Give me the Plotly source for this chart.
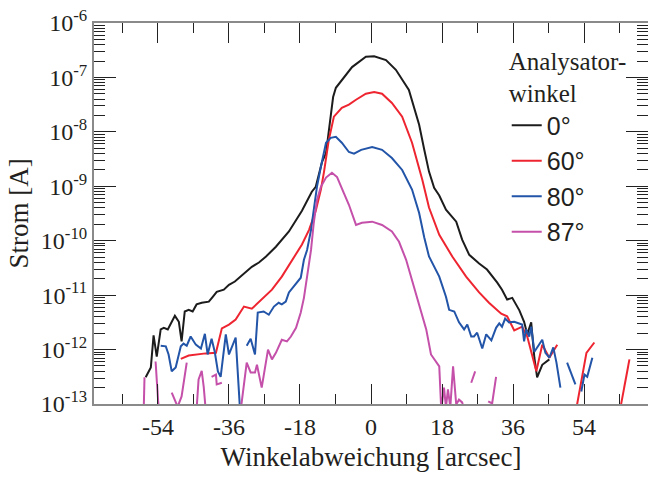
import numpy as np
import plotly.graph_objects as go

# ---- data (x in arcsec, values as log10 of current in A) ----
x_0 = [-57.1,-55.8,-55.1,-54.3,-53.3,-52.5,-51.5,-49.7,-48.7,-48.0,-47.2,-46.2,-45.2,-44.2,-42.9,-41.1,-40.1,-39.1,
       -37.3,-36.0,-34.5,-33.0,-31.5,-30.2,-28.4,-26.6,-24.1,-22.6,-20.8,-17.5,-15.0,-14.0,-13.2,-12.4,-11.4,-10.7,
       -10.2,-9.6,-8.9,-7.4,-4.8,-1.3,0.8,3.8,6.3,9.6,12.2,13.5,14.7,16.0,17.3,19.0,21.6,23.1,24.9,27.4,29.4,32.0,
       33.2,34.5,35.8,37.6,38.8,39.6,40.6,41.4,42.1,43.4,45.2]
log_0 = [-12.51,-12.33,-11.74,-12.13,-11.63,-11.60,-11.63,-11.38,-11.49,-11.85,-11.30,-11.27,-11.30,-11.17,-11.14,-11.12,-11.03,-10.94,
         -10.90,-10.81,-10.75,-10.66,-10.57,-10.48,-10.40,-10.29,-10.11,-9.98,-9.83,-9.45,-9.10,-9.01,-8.75,-8.55,-8.39,-8.02,
         -7.72,-7.36,-7.19,-7.05,-6.81,-6.62,-6.61,-6.68,-6.86,-7.23,-7.87,-8.33,-8.73,-9.03,-9.17,-9.43,-9.65,-9.98,-10.26,-10.42,-10.53,-10.77,
         -10.90,-11.08,-11.05,-11.28,-11.49,-11.72,-11.50,-12.15,-12.51,-12.28,-12.18]

x_60 = [-48.2,-46.2,-41.9,-39.3,-37.8,-36.0,-34.3,-32.2,-30.2,-27.2,-25.1,-22.6,-20.1,-17.5,-15.7,-14.0,-12.7,-11.9,-10.7,
        -9.4,-7.4,-5.6,-3.8,-1.3,0.8,2.8,5.3,7.9,10.4,12.2,13.0,14.7,17.3,20.6,24.1,27.4,29.9,33.0,34.5,36.3,38.3,39.6,
        40.9,41.9,43.4,45.2,47.2,None,52.0,53.3,54.6,56.6,None,62.9,65.5]
log_60 = [-12.17,-12.11,-12.07,-12.06,-11.61,-11.54,-11.45,-11.21,-11.25,-11.05,-10.90,-10.66,-10.37,-10.07,-9.80,-9.45,-9.06,-8.73,-8.15,
          -7.72,-7.56,-7.50,-7.41,-7.30,-7.27,-7.30,-7.47,-7.72,-8.20,-8.64,-8.88,-9.39,-9.89,-10.29,-10.66,-10.95,-11.14,-11.34,-11.39,-11.65,-11.58,-11.76,
          -12.13,-12.40,-11.91,-12.15,-11.91,None,-13.10,-12.55,-12.06,-11.87,None,-13.19,-12.18]

x_80 = [-53.3,-52.0,-51.3,-50.5,-49.5,-48.2,-47.5,-46.7,-45.7,-44.4,-43.1,-42.1,-41.4,-40.4,-39.6,-38.8,-38.1,-36.8,-36.0,-34.3,-33.2,None,
        -31.5,-30.5,-29.4,-28.7,-27.2,-25.9,-24.6,-23.4,-22.6,-21.6,-20.8,-19.5,-17.8,-17.0,-16.2,-15.2,-14.5,-13.7,-12.7,-11.4,
        -10.2,-8.9,-7.4,-5.6,-4.3,-2.5,0.3,2.8,5.3,7.9,10.4,12.2,13.5,14.7,17.3,19.0,19.8,21.1,22.3,23.6,24.4,25.4,26.1,26.9,
        28.2,29.2,30.5,31.7,32.5,33.2,34.0,35.0,36.3,37.6,38.3,38.8,39.3,40.1,40.6,41.4,42.6,43.4,44.2,45.2,46.2,47.0,48.0,None,
        49.7,51.8,None,53.3,54.1,54.8,56.1]
log_80 = [-11.93,-11.94,-12.09,-12.40,-12.33,-11.94,-11.89,-11.93,-11.76,-11.91,-11.98,-11.71,-12.09,-11.80,-12.04,-12.40,-12.50,-11.72,-12.09,-11.78,-13.10,None,
          -11.93,-11.80,-12.09,-11.32,-11.30,-11.36,-11.21,-11.14,-11.17,-11.12,-10.95,-10.84,-10.68,-10.35,-10.17,-9.80,-9.43,-9.01,-8.64,-8.20,
          -8.11,-8.09,-8.20,-8.37,-8.40,-8.33,-8.28,-8.33,-8.48,-8.70,-9.06,-9.49,-9.94,-10.29,-10.66,-11.03,-11.27,-11.30,-11.50,-11.63,-11.54,-11.76,-11.76,-11.69,
          -11.98,-11.72,-11.83,-11.60,-11.52,-11.58,-11.43,-11.50,-11.49,-11.52,-11.54,-11.85,-11.63,-11.76,-11.58,-12.04,-11.91,-11.82,-12.06,-12.15,-11.96,-12.24,-12.70,None,
          -12.24,-12.64,None,-12.77,-12.46,-12.50,-12.15]

x_87 = [-57.6,-57.4,None,-54.6,-53.8,None,-50.5,-49.0,-48.0,-46.7,None,-44.2,-43.7,-42.9,-42.4,-41.9,None,-40.4,-39.3,-39.1,-37.8,None,
        -33.0,-32.2,-31.5,-30.5,-29.4,-28.9,-27.7,-26.1,-25.1,-24.1,-22.6,-21.3,-20.3,-19.0,-17.8,-17.0,-16.2,-15.2,-14.5,-13.7,
        -12.7,-11.4,-9.9,-8.6,-6.9,-5.6,-3.8,-2.3,0.3,2.8,5.3,7.1,8.9,10.4,12.2,14.0,15.2,17.3,17.8,18.5,19.0,19.5,20.1,20.8,
        21.6,22.3,23.1,23.6,None,25.4,26.4,None,29.7,30.7,31.7]
log_87 = [-13.10,-12.51,None,-12.22,-13.10,None,-12.79,-13.05,-12.86,-12.24,None,-13.10,-12.55,-12.39,-12.68,-13.10,None,-12.50,-12.46,-12.64,-12.61,None,
          -13.10,-12.68,-12.24,-12.42,-12.42,-12.28,-12.70,-12.00,-12.18,-12.06,-11.82,-11.85,-11.76,-11.60,-11.32,-11.05,-10.66,-10.17,-9.67,-9.25,
          -9.01,-8.84,-8.75,-8.83,-9.12,-9.34,-9.71,-9.67,-9.65,-9.71,-9.83,-10.02,-10.35,-10.72,-11.14,-11.63,-12.09,-12.31,-13.10,-12.70,-13.06,-12.73,-13.06,-12.31,
          -13.01,-12.92,-12.97,-13.10,None,-12.61,-12.40,None,-12.95,-12.99,-12.50]

series_names = ["0°", "60°", "80°", "87°"]
series_x = [x_0, x_60, x_80, x_87]
series_log = [log_0, log_60, log_80, log_87]
colors = ["#1c1c1c", "#ee2530", "#2254a8", "#c450aa"]

x_tick_vals = [-54, -36, -18, 0, 18, 36, 54]
x_tick_text = ["-54", "-36", "-18", "0", "18", "36", "54"]
x_minor_vals = [-63, -45, -27, -9, 9, 27, 45, 63]
y_exponents = [-13, -12, -11, -10, -9, -8, -7, -6]

SERIF = "Liberation Serif"
SANS = "Liberation Sans"

fig = go.Figure()
for name, xs, ls, c in zip(series_names, series_x, series_log, colors):
    xa = np.array(xs, dtype=float)
    ya = np.power(10.0, np.array(ls, dtype=float))
    fig.add_trace(go.Scatter(x=xa, y=ya, mode="lines", name=name,
                             line=dict(color=c, width=2), connectgaps=False))

y_tick_vals = [10.0 ** e for e in y_exponents]
y_tick_text = ["10<sup>%d</sup>" % e for e in y_exponents]
y_minor_vals = [k * 10.0 ** e for e in y_exponents[:-1] for k in range(2, 10)]

axis_common = dict(showgrid=False, zeroline=False, showline=True, linecolor="#8a8a8a", linewidth=2,
                   ticks="inside", tickcolor="#222222", tickwidth=1, mirror="allticks")

fig.update_xaxes(range=[-70.2, 70.2], tickmode="array", tickvals=x_tick_vals, ticktext=x_tick_text,
                 ticklen=20, tickfont=dict(family=SERIF, size=24, color="#231f20"),
                 minor=dict(tickmode="array", tickvals=x_minor_vals, ticks="inside", ticklen=10,
                            tickcolor="#222222", tickwidth=1, showgrid=False),
                 title=dict(text="Winkelabweichung [arcsec]", font=dict(family=SERIF, size=27, color="#231f20"),
                            standoff=8),
                 automargin=False, **axis_common)
fig.update_yaxes(type="log", range=[-13, -6], tickmode="array", tickvals=y_tick_vals, ticktext=y_tick_text,
                 ticklen=22, tickfont=dict(family=SERIF, size=24, color="#231f20"),
                 minor=dict(tickmode="array", tickvals=y_minor_vals, ticks="inside", ticklen=11,
                            tickcolor="#222222", tickwidth=1, showgrid=False),
                 title=dict(text="Strom [A]", font=dict(family=SERIF, size=27, color="#231f20"), standoff=4),
                 automargin=False, **axis_common)

fig.update_layout(
    width=648, height=477,
    margin=dict(l=94, r=0, t=23, b=73),
    paper_bgcolor="white", plot_bgcolor="white",
    showlegend=True,
    legend=dict(x=0.745, y=0.962, xanchor="left", yanchor="top", bgcolor="rgba(0,0,0,0)",
                font=dict(family=SANS, size=25, color="#231f20"),
                title=dict(text="Analysator-<br>winkel", font=dict(family=SERIF, size=25, color="#231f20")),
                tracegroupgap=0),
)

fig.write_html("out.html")
